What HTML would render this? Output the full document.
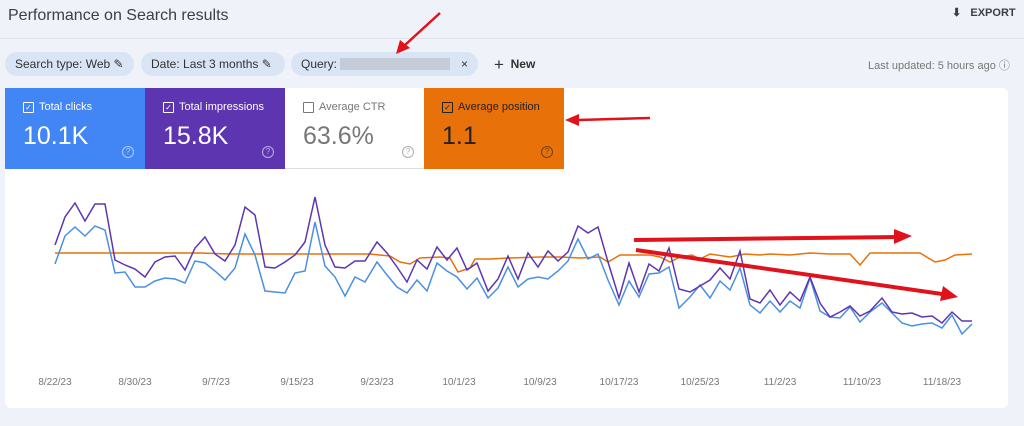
<!DOCTYPE html>
<html><head><meta charset="utf-8"><style>
body{margin:0;width:1024px;height:426px;background:#eff2f9;font-family:"Liberation Sans",sans-serif;position:relative;overflow:hidden}
.a{position:absolute;white-space:nowrap}
.chip{position:absolute;top:52px;height:24px;background:#d9e4f5;border-radius:12px;font-size:12px;color:#333;line-height:24px;padding:0 10px;box-sizing:border-box}
.tile{position:absolute;top:88px;height:81px;width:140px}
.tile .l{position:absolute;left:18px;top:13px;font-size:11px;display:flex;align-items:center;line-height:12px}
.tile .v{position:absolute;left:18px;top:34px;font-size:25px}
.tile .q{position:absolute;left:117px;top:58px;width:10px;height:10px;border:1px solid;border-radius:50%;font-size:8px;line-height:10px;text-align:center;opacity:.6}
.cb{display:inline-block;width:9px;height:9px;border:1px solid;border-radius:1px;margin-right:5px;font-size:8px;line-height:9px;text-align:center;overflow:hidden}
.x{position:absolute;top:377px;font-size:10px;color:#777;transform:translateX(-50%)}
</style></head><body>
<div class="a" style="left:8px;top:7px;font-size:16px;color:#3c4043">Performance on Search results</div>
<div class="a" style="left:952px;top:6px;font-size:11px;color:#3c4043;font-weight:bold">⬇&nbsp;&nbsp;&nbsp;EXPORT</div>
<div class="a" style="left:0;top:38px;width:1024px;height:1px;background:#dde2ea"></div>
<div class="chip" style="left:5px;width:129px">Search type: Web ✎</div>
<div class="chip" style="left:141px;width:144px">Date: Last 3 months ✎</div>
<div class="chip" style="left:291px;width:187px">Query: <span style="display:inline-block;width:110px;height:12px;background:#c5ccd8;vertical-align:-2px"></span><span style="position:absolute;right:10px">×</span></div>
<div class="a" style="left:494px;top:55px;font-size:12px;color:#333;font-weight:bold"><span style="font-size:17px;font-weight:normal;vertical-align:-2px">+</span>&nbsp;&nbsp;New</div>
<div class="a" style="left:868px;top:57px;font-size:11px;color:#777">Last updated: 5 hours ago ⓘ</div>
<div class="a" style="left:5px;top:88px;width:1003px;height:320px;background:#fff;border-radius:6px"></div>
<div class="tile" style="left:5px;background:#4285f4;color:#fff"><div class="l"><span class="cb">✓</span>Total clicks</div><div class="v">10.1K</div><div class="q">?</div></div>
<div class="tile" style="left:145px;background:#5e35b1;color:#fff"><div class="l"><span class="cb">✓</span>Total impressions</div><div class="v">15.8K</div><div class="q">?</div></div>
<div class="tile" style="left:285px;background:#fff;color:#777;border-bottom:1px solid #ddd;height:80px"><div class="l"><span class="cb"></span>Average CTR</div><div class="v">63.6%</div><div class="q">?</div></div>
<div class="tile" style="left:424px;background:#e8710a;color:#222"><div class="l"><span class="cb">✓</span>Average position</div><div class="v">1.1</div><div class="q">?</div></div>
<svg class="a" style="left:0;top:0" width="1024" height="426">
<polyline fill="none" stroke="#e8710a" stroke-width="1.5" points="55,253 140,253 200,253 230,254 300,254 330,254 370,254 390,256 400,262 410,264 420,258 440,257 450,258 458,272 470,268 475,259 490,259 510,258 540,257 560,257 580,258 600,257 608,262 620,255 650,255 660,257 670,262 680,257 692,255 700,259 710,254 730,257 745,254 760,255 770,254 790,255 810,253 830,254 850,254 860,265 870,253 920,253 935,262 945,260 955,255 972,254"/>
<polyline fill="none" stroke="#4a90e2" stroke-width="1.5" points="55,264 65,236 75,227 85,236 95,226 105,230 115,273 125,272 135,287 145,287 155,281 165,278 175,279 185,283 195,261 205,263 215,271 225,280 235,268 245,234 255,255 265,291 275,292 285,293 295,273 305,271 315,222 325,266 335,277 345,296 355,277 365,282 377,262 387,275 397,287 407,293 417,280 427,291 437,263 447,271 457,277 467,289 477,278 488,298 498,288 508,267 518,287 528,279 538,277 548,279 558,271 568,261 578,239 588,259 598,254 608,280 619,305 629,281 639,297 649,274 659,273 669,267 679,308 690,297 700,285 710,298 720,281 730,290 740,268 750,305 760,313 770,301 780,312 790,301 800,308 810,278 820,311 830,317 840,318 850,307 860,322 870,312 882,303 892,313 902,323 912,326 922,324 932,323 942,328 952,315 962,334 972,324"/>
<polyline fill="none" stroke="#5e35b1" stroke-width="1.5" points="55,245 65,217 75,203 85,221 95,204 105,204 115,260 125,265 135,269 145,277 155,262 165,257 175,256 185,270 195,248 205,237 215,254 225,261 235,245 245,207 255,215 265,267 275,268 285,262 295,255 305,242 315,197 325,245 335,267 345,268 355,261 365,261 377,242 387,253 397,267 407,282 417,260 427,269 437,247 447,260 457,248 467,270 477,263 488,291 498,279 508,256 518,279 528,253 538,267 548,251 558,261 568,252 578,226 588,233 598,227 608,262 619,298 629,263 639,292 649,264 659,271 669,248 679,289 690,292 700,286 710,280 720,268 730,279 740,251 750,299 760,303 770,290 780,305 790,292 800,301 810,277 820,303 830,317 840,312 850,306 860,316 870,311 882,298 892,312 902,314 912,313 922,317 932,316 942,323 952,312 962,321 972,321"/>
<g fill="#e0121b" stroke="#e0121b">
<line x1="634" y1="240" x2="896" y2="237" stroke-width="4"/><polygon points="894,229 912,236 894,244" stroke="none"/>
<line x1="636" y1="250" x2="942" y2="294" stroke-width="4"/><polygon points="943,286 958,297 940,301" stroke="none"/>
<line x1="440" y1="13" x2="405" y2="45" stroke-width="2.5"/><polygon points="396,54 400,40 410,48" stroke="none"/>
<line x1="650" y1="118" x2="578" y2="120" stroke-width="2.5"/><polygon points="565,120 579,114 579,126" stroke="none"/>
</g></svg>
<div class="x" style="left:55px">8/22/23</div><div class="x" style="left:135px">8/30/23</div><div class="x" style="left:216px">9/7/23</div><div class="x" style="left:297px">9/15/23</div><div class="x" style="left:377px">9/23/23</div><div class="x" style="left:459px">10/1/23</div><div class="x" style="left:540px">10/9/23</div><div class="x" style="left:619px">10/17/23</div><div class="x" style="left:700px">10/25/23</div><div class="x" style="left:780px">11/2/23</div><div class="x" style="left:862px">11/10/23</div><div class="x" style="left:942px">11/18/23</div>
</body></html>
